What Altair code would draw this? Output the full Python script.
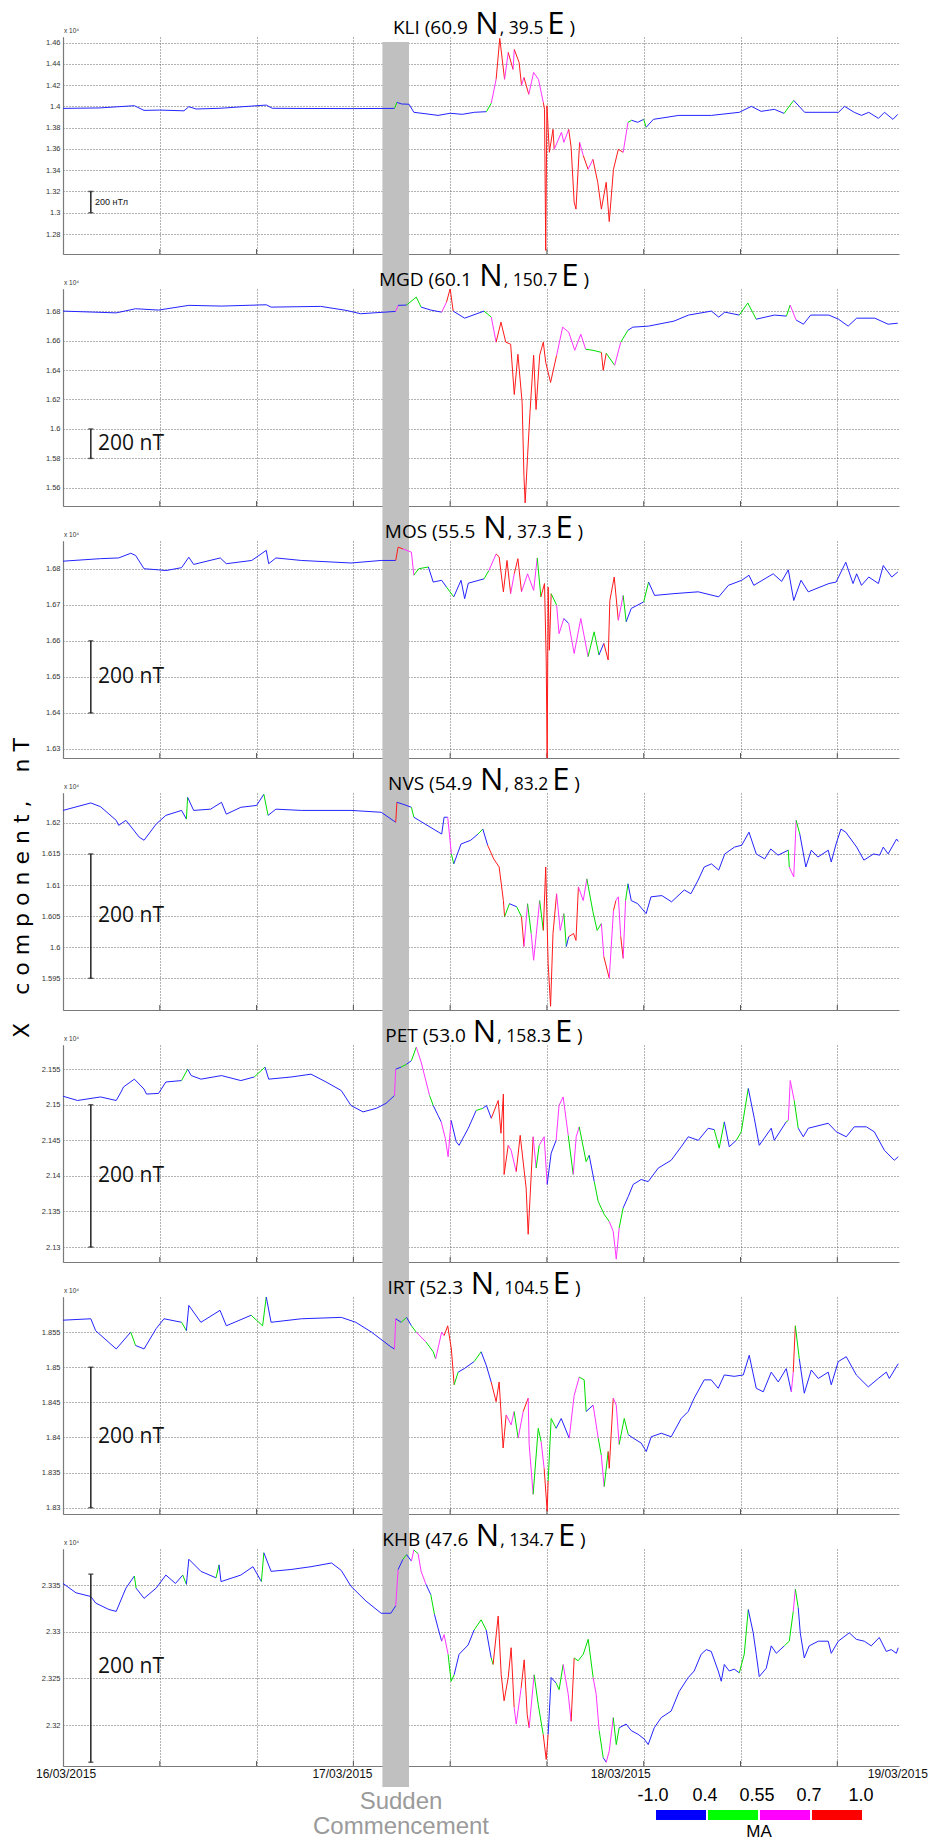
import altair as alt
import pandas as pd

# ---------------- data ----------------
# time = hours since 16/03/2015 00:00
T_END = 69.1
GRID_HOURS = [0, 8, 16, 24, 32, 40, 48, 56, 64]
SC_HOURS = [26.4, 28.6]  # sudden commencement band

MA_CODES = ["b", "g", "m", "r"]
MA_LINE_COLORS = ["#2424ff", "#00dd00", "#ff33ff", "#ff1a1a"]
MA_BAR_COLORS = ["#0000ff", "#00ff00", "#ff00ff", "#ff0000"]
MA_TICKS = ["-1.0", "0.4", "0.55", "0.7", "1.0"]

DATE_TEXT = ["16/03/2015", "17/03/2015", "18/03/2015", "19/03/2015"]
DATE_HOURS = [0.25, 23.1, 46.1, 69.0]

STATIONS = ["KLI", "MGD", "MOS", "NVS", "PET", "IRT", "KHB"]
LAT = ["60.9", "60.1", "55.5", "54.9", "53.0", "52.3", "47.6"]
LON = ["39.5", "150.7", "37.3", "83.2", "158.3", "104.5", "134.7"]

Y_DOMAINS = [[12612, 14652], [15477, 16950], [16275, 16877], [15899, 16248],
             [21279, 21584], [18291, 18600], [23156, 23389]]
Y_TICKS = [
    [12800, 13000, 13200, 13400, 13600, 13800, 14000, 14200, 14400, 14600],
    [15600, 15800, 16000, 16200, 16400, 16600, 16800],
    [16300, 16400, 16500, 16600, 16700, 16800],
    [15950, 16000, 16050, 16100, 16150, 16200],
    [21300, 21350, 21400, 21450, 21500, 21550],
    [18300, 18350, 18400, 18450, 18500, 18550],
    [23200, 23250, 23300, 23350],
]
BAR_LO = [13000, 15800, 16400, 15950, 21300, 18300, 23160]
BAR_HI = [13200, 16000, 16600, 16150, 21500, 18500, 23362]
BAR_LABEL_V = [13100, 15895, 16500, 16050, 21400, 18400, 23262]
BAR_TEXT = ["200 нТл", "200 nT", "200 nT", "200 nT", "200 nT", "200 nT", "200 nT"]
BAR_HOUR = 2.3
BAR_TEXT_HOUR = [2.65, 2.9, 2.9, 2.9, 2.9, 2.9, 2.9]

KLI = [(0, 13981, "b"), (3.0, 13985, "b"), (5.9, 14006, "b"), (6.7, 13962, "b"), (8.0, 13965, "b"),
       (10.0, 13958, "b"), (10.4, 13997, "b"), (11.0, 13975, "b"), (13.0, 13982, "b"), (16.8, 14012, "b"),
       (17.3, 13982, "b"), (20.0, 13980, "b"), (24.0, 13979, "b"), (27.4, 13981, "g"), (27.6, 14037, "b"),
       (28.0, 14022, "b"), (28.6, 14020, "b"), (29.0, 13944, "b"), (30.0, 13930, "b"), (31.0, 13915, "b"),
       (32.0, 13935, "b"), (33.0, 13925, "b"), (34.0, 13944, "b"), (35.0, 13950, "g"), (35.4, 14030, "m"),
       (35.8, 14254, "r"), (36.1, 14639, "r"), (36.5, 14254, "m"), (36.8, 14507, "r"), (37.2, 14347, "m"),
       (37.3, 14535, "r"), (37.7, 14413, "r"), (37.9, 14197, "m"), (38.1, 14272, "r"), (38.5, 14113, "m"),
       (38.9, 14319, "m"), (39.3, 14254, "m"), (39.7, 14037, "r"), (39.8, 13972, "r"), (39.9, 12646, "r"),
       (40.0, 14006, "r"), (40.2, 13568, "r"), (40.5, 13784, "r"), (40.6, 13596, "m"), (41.2, 13756, "m"),
       (41.4, 13662, "m"), (41.8, 13784, "r"), (42.0, 13615, "r"), (42.25, 13098, "r"), (42.4, 13034, "r"),
       (42.7, 13662, "m"), (43.0, 13539, "r"), (43.4, 13408, "m"), (43.8, 13502, "r"), (44.2, 13286, "r"),
       (44.5, 13034, "r"), (44.9, 13286, "r"), (45.15, 12917, "r"), (45.5, 13408, "r"), (45.9, 13596, "r"),
       (46.3, 13568, "m"), (46.7, 13850, "g"), (47.0, 13869, "b"), (47.5, 13850, "b"), (48.0, 13878, "g"),
       (48.2, 13803, "b"), (48.8, 13878, "b"), (50.9, 13915, "b"), (53.6, 13915, "b"), (55.9, 13944, "b"),
       (56.9, 14000, "b"), (57.7, 13953, "b"), (58.8, 13972, "b"), (59.6, 13934, "g"), (60.4, 14056, "b"),
       (61.3, 13944, "b"), (64.1, 13944, "b"), (64.6, 14000, "b"), (65.4, 13944, "b"), (66.0, 13915, "b"),
       (66.6, 13944, "b"), (67.4, 13887, "b"), (67.9, 13944, "b"), (68.6, 13878, "b"), (69.0, 13925, "b")]

MGD = [(0, 16800, "b"), (4.4, 16788, "b"), (6.0, 16816, "b"), (7.9, 16807, "b"), (10.4, 16839, "b"),
       (13.1, 16834, "b"), (16.8, 16843, "b"), (17.2, 16827, "b"), (21.3, 16832, "b"), (23.4, 16805, "b"),
       (24.6, 16782, "b"), (27.5, 16798, "m"), (27.7, 16839, "b"), (28.4, 16841, "g"), (29.2, 16895, "g"),
       (29.6, 16827, "b"), (30.4, 16807, "b"), (31.3, 16793, "m"), (31.7, 16861, "r"), (32.0, 16952, "r"),
       (32.25, 16800, "b"), (33.2, 16752, "b"), (34.8, 16800, "g"), (35.4, 16759, "m"), (35.8, 16589, "r"),
       (36.2, 16725, "r"), (36.6, 16589, "r"), (37.0, 16575, "r"), (37.3, 16234, "r"), (37.6, 16507, "r"),
       (37.95, 16180, "r"), (38.1, 15682, "r"), (38.2, 15498, "r"), (38.4, 15818, "r"), (38.6, 16112, "r"),
       (38.9, 16500, "r"), (39.1, 16132, "r"), (39.4, 16500, "r"), (39.7, 16589, "r"), (39.9, 16452, "r"),
       (40.3, 16316, "r"), (40.8, 16500, "m"), (41.3, 16691, "m"), (41.8, 16657, "m"), (42.3, 16534, "m"),
       (42.8, 16643, "m"), (43.2, 16541, "g"), (43.8, 16534, "g"), (44.5, 16520, "r"), (44.65, 16398, "r"),
       (44.9, 16514, "g"), (45.6, 16432, "m"), (46.1, 16589, "g"), (46.7, 16670, "b"), (47.1, 16691, "b"),
       (48.4, 16698, "b"), (50.5, 16732, "b"), (51.7, 16773, "b"), (53.6, 16800, "b"), (54.2, 16759, "b"),
       (54.7, 16793, "b"), (55.9, 16773, "g"), (56.6, 16855, "g"), (57.3, 16745, "b"), (58.8, 16773, "b"),
       (59.8, 16766, "g"), (60.1, 16841, "m"), (60.6, 16739, "b"), (61.2, 16711, "b"), (61.8, 16773, "b"),
       (63.3, 16773, "b"), (64.1, 16745, "b"), (64.9, 16698, "b"), (65.6, 16752, "b"), (67.1, 16752, "b"),
       (68.2, 16711, "b"), (69.0, 16718, "b")]

MOS = [(0, 16821, "b"), (3.1, 16828, "b"), (4.6, 16830, "b"), (5.6, 16843, "b"), (6.0, 16837, "b"),
       (6.7, 16800, "b"), (7.9, 16797, "b"), (8.5, 16795, "b"), (9.8, 16803, "b"), (10.4, 16832, "b"),
       (10.8, 16812, "b"), (13.0, 16830, "b"), (13.5, 16814, "b"), (15.6, 16823, "b"), (16.8, 16851, "b"),
       (17.0, 16814, "b"), (17.6, 16830, "b"), (19.7, 16823, "b"), (23.8, 16816, "b"), (26.3, 16823, "b"),
       (27.5, 16823, "r"), (27.7, 16860, "r"), (28.1, 16855, "m"), (28.8, 16846, "m"), (29.0, 16782, "g"),
       (29.4, 16800, "g"), (30.2, 16805, "b"), (30.6, 16763, "b"), (31.3, 16768, "b"), (31.7, 16749, "g"),
       (32.3, 16722, "b"), (32.9, 16768, "b"), (33.2, 16717, "b"), (33.5, 16760, "b"), (34.8, 16772, "g"),
       (35.2, 16795, "m"), (35.8, 16841, "r"), (36.05, 16833, "r"), (36.4, 16736, "r"), (36.7, 16823, "r"),
       (37.0, 16731, "m"), (37.3, 16786, "r"), (37.6, 16828, "r"), (37.9, 16736, "m"), (38.4, 16786, "m"),
       (38.9, 16740, "m"), (39.2, 16830, "g"), (39.5, 16722, "r"), (39.8, 16759, "r"), (39.94, 16547, "r"),
       (40.02, 16270, "r"), (40.1, 16749, "r"), (40.2, 16574, "r"), (40.35, 16731, "g"), (40.8, 16699, "m"),
       (41.0, 16620, "m"), (41.4, 16662, "b"), (41.8, 16648, "m"), (42.25, 16565, "m"), (42.8, 16662, "m"),
       (43.4, 16556, "g"), (43.9, 16625, "g"), (44.3, 16561, "b"), (44.7, 16593, "r"), (45.06, 16547, "r"),
       (45.2, 16712, "r"), (45.56, 16777, "r"), (45.9, 16657, "m"), (46.3, 16726, "g"), (46.55, 16653, "b"),
       (46.97, 16690, "b"), (48.0, 16708, "g"), (48.4, 16763, "b"), (48.9, 16726, "b"), (50.5, 16731, "b"),
       (52.5, 16736, "b"), (54.2, 16722, "b"), (55.0, 16754, "b"), (56.1, 16768, "b"), (56.7, 16782, "b"),
       (57.1, 16754, "b"), (58.7, 16786, "b"), (59.4, 16765, "b"), (59.95, 16797, "b"), (60.4, 16712, "b"),
       (61.0, 16768, "b"), (61.6, 16736, "b"), (63.3, 16759, "b"), (63.9, 16763, "b"), (64.7, 16818, "b"),
       (65.3, 16759, "b"), (65.6, 16786, "b"), (66.0, 16754, "b"), (66.6, 16777, "b"), (67.4, 16759, "b"),
       (67.8, 16809, "b"), (68.5, 16777, "b"), (69.0, 16791, "b")]

NVS = [(0, 16220, "b"), (2.3, 16232, "b"), (3.1, 16226, "b"), (4.4, 16204, "b"), (4.6, 16196, "b"),
       (5.2, 16204, "b"), (6.3, 16177, "b"), (6.7, 16172, "b"), (7.7, 16198, "b"), (8.5, 16212, "b"),
       (9.8, 16220, "b"), (10.2, 16206, "g"), (10.3, 16241, "b"), (10.8, 16220, "b"), (12.2, 16222, "b"),
       (13.1, 16233, "b"), (13.5, 16214, "b"), (14.7, 16225, "b"), (16.0, 16228, "b"), (16.6, 16246, "g"),
       (16.95, 16212, "b"), (17.6, 16222, "b"), (19.7, 16220, "b"), (23.8, 16220, "b"), (26.3, 16217, "b"),
       (27.5, 16201, "r"), (27.6, 16233, "b"), (28.1, 16230, "b"), (28.8, 16225, "g"), (29.0, 16209, "b"),
       (31.3, 16182, "b"), (31.5, 16209, "b"), (31.8, 16209, "m"), (32.1, 16150, "g"), (32.3, 16134, "b"),
       (32.9, 16166, "b"), (33.7, 16172, "b"), (34.3, 16182, "g"), (34.7, 16190, "b"), (35.1, 16164, "r"),
       (35.6, 16142, "r"), (36.05, 16129, "r"), (36.4, 16075, "r"), (36.5, 16049, "g"), (36.9, 16070, "b"),
       (37.5, 16065, "g"), (37.9, 16049, "r"), (38.1, 16001, "m"), (38.4, 16070, "g"), (38.7, 16022, "m"),
       (38.9, 15979, "m"), (39.4, 16075, "g"), (39.7, 16027, "r"), (39.9, 16129, "r"), (40.1, 15974, "r"),
       (40.3, 15905, "r"), (40.5, 16022, "r"), (40.8, 16086, "m"), (41.1, 16027, "m"), (41.4, 16054, "g"),
       (41.6, 16001, "b"), (41.8, 16017, "r"), (42.2, 16022, "r"), (42.4, 16011, "r"), (42.6, 16097, "m"),
       (43.0, 16075, "m"), (43.3, 16110, "g"), (43.8, 16057, "g"), (44.15, 16027, "g"), (44.5, 16038, "m"),
       (44.7, 15985, "r"), (45.15, 15950, "m"), (45.5, 16059, "r"), (45.7, 16075, "m"), (45.9, 16081, "m"),
       (46.1, 16017, "r"), (46.3, 15982, "m"), (46.5, 16075, "g"), (46.7, 16102, "b"), (46.97, 16075, "b"),
       (47.5, 16070, "b"), (48.2, 16054, "b"), (48.6, 16081, "b"), (49.5, 16083, "b"), (50.3, 16073, "b"),
       (51.35, 16092, "b"), (51.9, 16086, "b"), (52.5, 16108, "b"), (53.0, 16129, "b"), (53.6, 16134, "b"),
       (54.2, 16124, "b"), (54.7, 16150, "b"), (55.5, 16161, "b"), (56.1, 16164, "b"), (56.7, 16185, "b"),
       (57.3, 16150, "b"), (58.0, 16142, "b"), (58.5, 16158, "b"), (59.1, 16148, "b"), (59.95, 16156, "g"),
       (60.03, 16129, "m"), (60.4, 16113, "m"), (60.6, 16204, "g"), (60.9, 16182, "b"), (61.4, 16129, "b"),
       (61.85, 16156, "b"), (62.4, 16145, "b"), (63.25, 16156, "b"), (63.5, 16137, "b"), (63.9, 16166, "b"),
       (64.3, 16190, "b"), (64.7, 16185, "b"), (65.6, 16161, "b"), (66.2, 16140, "b"), (67.0, 16150, "b"),
       (67.5, 16148, "b"), (67.8, 16161, "b"), (68.2, 16150, "b"), (68.9, 16174, "b"), (69.04, 16170, "b")]

PET = [(0, 21512, "b"), (1.2, 21506, "b"), (3.1, 21511, "b"), (4.4, 21506, "b"), (4.8, 21518, "b"),
       (5.0, 21525, "b"), (5.9, 21536, "b"), (6.7, 21522, "b"), (6.9, 21515, "b"), (7.9, 21516, "b"),
       (8.5, 21532, "b"), (9.8, 21534, "g"), (10.3, 21550, "b"), (10.6, 21541, "b"), (11.4, 21536, "b"),
       (13.1, 21541, "b"), (14.7, 21534, "b"), (15.8, 21539, "g"), (16.7, 21553, "b"), (17.0, 21536, "b"),
       (18.85, 21539, "b"), (20.5, 21543, "b"), (21.75, 21532, "b"), (23.0, 21520, "b"), (23.8, 21499, "b"),
       (24.8, 21490, "b"), (25.9, 21495, "b"), (26.7, 21502, "b"), (27.4, 21513, "m"), (27.5, 21550, "b"),
       (27.95, 21553, "g"), (28.4, 21557, "b"), (28.8, 21562, "g"), (29.2, 21581, "m"), (29.6, 21560, "m"),
       (30.3, 21513, "g"), (30.6, 21499, "b"), (31.0, 21485, "b"), (31.26, 21476, "m"), (31.6, 21453, "m"),
       (31.83, 21427, "m"), (32.08, 21478, "b"), (32.5, 21448, "b"), (32.74, 21443, "b"), (33.5, 21467, "b"),
       (34.15, 21492, "g"), (34.7, 21495, "b"), (35.0, 21499, "b"), (35.4, 21481, "r"), (35.97, 21506, "r"),
       (36.2, 21460, "r"), (36.4, 21515, "r"), (36.46, 21402, "r"), (36.8, 21443, "m"), (37.04, 21436, "m"),
       (37.46, 21406, "r"), (37.79, 21457, "r"), (38.28, 21383, "r"), (38.45, 21318, "r"), (38.86, 21455, "m"),
       (39.11, 21411, "g"), (39.36, 21443, "m"), (39.77, 21455, "m"), (40.02, 21388, "b"), (40.35, 21432, "b"),
       (40.76, 21450, "m"), (41.0, 21499, "m"), (41.34, 21511, "m"), (41.76, 21457, "g"), (42.17, 21402, "m"),
       (42.42, 21455, "m"), (42.67, 21469, "g"), (43.24, 21420, "g"), (43.49, 21429, "b"), (43.91, 21392, "g"),
       (44.24, 21364, "g"), (44.73, 21346, "g"), (45.15, 21336, "m"), (45.48, 21322, "m"), (45.73, 21283, "m"),
       (45.97, 21327, "g"), (46.3, 21355, "b"), (46.72, 21371, "b"), (47.13, 21388, "b"), (47.79, 21395, "b"),
       (48.37, 21392, "b"), (49.2, 21411, "b"), (50.27, 21422, "b"), (51.1, 21441, "b"), (51.68, 21455, "b"),
       (52.51, 21450, "b"), (53.33, 21467, "b"), (53.83, 21465, "g"), (54.24, 21439, "g"), (54.66, 21476, "b"),
       (55.07, 21441, "b"), (55.65, 21450, "g"), (56.06, 21462, "g"), (56.64, 21523, "b"), (57.14, 21481, "b"),
       (57.55, 21443, "b"), (58.54, 21467, "b"), (58.79, 21450, "b"), (59.78, 21476, "g"), (59.95, 21478, "m"),
       (60.11, 21534, "m"), (60.44, 21506, "g"), (60.77, 21467, "b"), (61.19, 21455, "b"), (61.6, 21467, "b"),
       (63.25, 21474, "b"), (63.92, 21462, "b"), (64.74, 21455, "b"), (65.4, 21469, "b"), (66.4, 21469, "b"),
       (67.06, 21462, "b"), (67.89, 21436, "b"), (68.71, 21422, "b"), (69.04, 21427, "b")]

IRT = [(0, 18567, "b"), (2.3, 18569, "b"), (2.7, 18552, "b"), (4.4, 18526, "b"), (5.6, 18550, "g"),
       (6.0, 18531, "b"), (6.7, 18526, "b"), (7.7, 18555, "b"), (8.35, 18569, "b"), (9.8, 18564, "g"),
       (10.2, 18552, "b"), (10.4, 18588, "b"), (11.4, 18564, "b"), (12.98, 18581, "b"), (13.5, 18559, "b"),
       (15.55, 18574, "g"), (16.5, 18559, "g"), (16.8, 18600, "b"), (17.2, 18564, "b"), (19.7, 18569, "b"),
       (23.0, 18571, "b"), (24.2, 18564, "b"), (25.5, 18550, "b"), (27.1, 18529, "b"), (27.4, 18526, "m"),
       (27.5, 18569, "b"), (27.95, 18564, "g"), (28.4, 18571, "b"), (28.8, 18559, "g"), (29.2, 18550, "m"),
       (29.6, 18543, "m"), (30.0, 18536, "g"), (30.6, 18522, "g"), (30.8, 18512, "m"), (31.3, 18550, "m"),
       (31.5, 18545, "r"), (31.8, 18559, "r"), (32.1, 18526, "r"), (32.33, 18475, "g"), (32.66, 18493, "b"),
       (33.16, 18498, "b"), (33.98, 18508, "g"), (34.56, 18522, "b"), (34.98, 18503, "b"), (35.39, 18479, "r"),
       (35.8, 18451, "r"), (36.05, 18479, "r"), (36.38, 18385, "r"), (36.63, 18432, "m"), (37.04, 18418, "m"),
       (37.29, 18437, "g"), (37.62, 18399, "m"), (38.04, 18437, "r"), (38.45, 18456, "m"), (38.53, 18390, "m"),
       (38.86, 18319, "g"), (39.28, 18413, "g"), (39.52, 18394, "m"), (39.77, 18356, "r"), (40.02, 18295, "r"),
       (40.1, 18338, "g"), (40.35, 18427, "g"), (40.76, 18413, "b"), (41.18, 18427, "b"), (41.84, 18399, "m"),
       (42.25, 18460, "m"), (42.67, 18486, "g"), (43.08, 18482, "g"), (43.24, 18437, "b"), (43.82, 18446, "m"),
       (44.24, 18399, "g"), (44.49, 18375, "m"), (44.73, 18330, "g"), (45.06, 18380, "r"), (45.15, 18356, "r"),
       (45.48, 18456, "m"), (45.73, 18446, "m"), (45.97, 18390, "g"), (46.39, 18427, "g"), (46.72, 18404, "b"),
       (47.13, 18399, "b"), (47.79, 18392, "b"), (48.21, 18380, "b"), (48.62, 18401, "b"), (49.45, 18406, "b"),
       (50.27, 18401, "b"), (51.1, 18427, "b"), (51.68, 18437, "b"), (52.17, 18456, "b"), (53.0, 18482, "b"),
       (53.58, 18482, "b"), (54.16, 18470, "b"), (54.66, 18489, "b"), (55.48, 18487, "b"), (56.23, 18489, "b"),
       (56.72, 18517, "b"), (57.3, 18470, "b"), (57.88, 18465, "b"), (58.54, 18493, "b"), (59.12, 18479, "b"),
       (59.78, 18498, "b"), (60.2, 18465, "m"), (60.36, 18493, "r"), (60.53, 18559, "g"), (60.86, 18512, "b"),
       (61.27, 18463, "b"), (61.85, 18496, "b"), (62.43, 18484, "b"), (63.25, 18493, "b"), (63.5, 18475, "b"),
       (64.08, 18508, "b"), (64.74, 18515, "b"), (65.57, 18489, "b"), (66.56, 18472, "b"), (67.39, 18484, "b"),
       (68.05, 18493, "b"), (68.3, 18484, "b"), (69.04, 18505, "b")]

KHB = [(0, 23352, "b"), (1.07, 23342, "b"), (2.3, 23338, "b"), (2.7, 23331, "b"), (3.8, 23324, "b"),
       (4.4, 23322, "b"), (5.2, 23347, "b"), (5.9, 23360, "g"), (6.04, 23347, "b"), (6.7, 23336, "b"),
       (7.7, 23347, "b"), (8.5, 23361, "b"), (9.3, 23352, "b"), (9.9, 23361, "g"), (10.2, 23351, "b"),
       (10.4, 23378, "b"), (11.4, 23365, "b"), (12.65, 23358, "g"), (12.9, 23372, "b"), (13.06, 23354, "b"),
       (14.7, 23361, "b"), (15.7, 23370, "b"), (16.4, 23354, "g"), (16.6, 23385, "b"), (17.2, 23365, "b"),
       (18.85, 23367, "b"), (20.5, 23370, "b"), (22.2, 23374, "b"), (23.0, 23366, "b"), (23.8, 23349, "b"),
       (25.05, 23333, "b"), (26.3, 23320, "b"), (27.1, 23320, "b"), (27.5, 23328, "m"), (27.7, 23367, "b"),
       (28.1, 23378, "g"), (28.4, 23383, "b"), (28.8, 23376, "m"), (29.0, 23388, "g"), (29.35, 23384, "m"),
       (29.6, 23365, "m"), (30.0, 23351, "b"), (30.4, 23340, "g"), (30.7, 23319, "b"), (31.0, 23304, "b"),
       (31.3, 23290, "m"), (31.5, 23297, "m"), (31.83, 23276, "g"), (32.08, 23247, "g"), (32.33, 23254, "b"),
       (32.74, 23276, "b"), (33.49, 23286, "b"), (33.98, 23302, "g"), (34.56, 23313, "g"), (34.98, 23302, "b"),
       (35.39, 23272, "g"), (35.55, 23265, "r"), (35.97, 23317, "r"), (36.22, 23254, "r"), (36.46, 23226, "r"),
       (36.8, 23251, "r"), (37.04, 23283, "r"), (37.29, 23219, "m"), (37.46, 23201, "m"), (37.87, 23240, "r"),
       (38.12, 23270, "r"), (38.37, 23211, "r"), (38.53, 23197, "m"), (38.94, 23254, "g"), (39.28, 23222, "g"),
       (39.69, 23190, "r"), (39.94, 23163, "r"), (40.1, 23190, "b"), (40.35, 23251, "b"), (40.76, 23245, "g"),
       (41.01, 23238, "g"), (41.34, 23265, "m"), (41.76, 23233, "m"), (42.0, 23204, "r"), (42.25, 23272, "g"),
       (42.58, 23269, "g"), (43.0, 23276, "g"), (43.41, 23292, "g"), (43.82, 23251, "m"), (44.07, 23233, "m"),
       (44.32, 23194, "g"), (44.65, 23165, "b"), (44.9, 23160, "m"), (45.15, 23172, "m"), (45.48, 23208, "g"),
       (45.73, 23179, "g"), (45.97, 23197, "b"), (46.55, 23201, "b"), (46.97, 23194, "b"), (47.54, 23190, "b"),
       (48.04, 23185, "b"), (48.37, 23179, "b"), (48.87, 23197, "b"), (49.45, 23208, "b"), (50.27, 23215, "b"),
       (50.93, 23236, "b"), (51.68, 23251, "b"), (52.17, 23258, "b"), (52.75, 23276, "b"), (53.17, 23281, "b"),
       (53.58, 23279, "b"), (54.16, 23258, "b"), (54.41, 23247, "b"), (54.66, 23265, "b"), (55.07, 23258, "b"),
       (55.48, 23260, "b"), (55.9, 23256, "g"), (56.31, 23276, "g"), (56.64, 23324, "b"), (57.05, 23299, "b"),
       (57.3, 23276, "b"), (57.55, 23252, "b"), (58.13, 23261, "b"), (58.54, 23285, "b"), (58.96, 23277, "b"),
       (59.62, 23285, "g"), (60.03, 23290, "g"), (60.36, 23322, "m"), (60.53, 23346, "g"), (60.77, 23326, "b"),
       (60.94, 23299, "b"), (61.27, 23272, "b"), (61.68, 23285, "b"), (62.43, 23290, "b"), (63.25, 23290, "b"),
       (63.5, 23277, "b"), (64.08, 23290, "b"), (64.99, 23299, "b"), (65.57, 23292, "b"), (66.23, 23290, "b"),
       (66.81, 23285, "b"), (67.47, 23294, "b"), (68.05, 23279, "b"), (68.46, 23281, "b"), (68.88, 23277, "b"),
       (69.04, 23283, "b")]

SERIES = [KLI, MGD, MOS, NVS, PET, IRT, KHB]

# ---------------- layout / style ----------------
W, H, GAP = 836, 217, 35
SANS = "Liberation Sans"
TITLE_FONT = "Open Sans"
NB = "\u00a0"
GRID_STYLE = dict(grid=True, gridDash=[1, 2], gridColor="#555", gridWidth=1, gridOpacity=0.9,
                  domainColor="#7a7a7a", domainWidth=1.2, ticks=False, title=None)

XS = alt.Scale(domain=[0, T_END], nice=False, zero=False)
X_AXIS = alt.Axis(values=GRID_HOURS, labels=False, **GRID_STYLE)
COLOR = alt.Color("ma:N", scale=alt.Scale(domain=MA_CODES, range=MA_LINE_COLORS), legend=None)

EM = {"0": .572, "1": .572, "2": .572, "3": .572, "4": .572, "5": .572, "6": .572, "7": .572,
      "8": .572, "9": .572, " ": .26, ".": .266, ",": .25, "(": .296, ")": .296, "K": .59, "L": .5,
      "I": .28, "M": .9, "G": .69, "D": .725, "O": .78, "S": .54, "V": .58, "N": .76, "P": .6,
      "E": .52, "T": .52, "R": .62, "H": .745, "B": .62, NB: .26}


def text_w(s, size):
    return sum(EM.get(c, .56) for c in s) * size


def seg_frame(points):
    rows = []
    for (t0, v0, c), (t1, v1, _) in zip(points[:-1], points[1:]):
        rows.append({"t": t0, "t2": t1, "v": v0, "v2": v1, "ma": c})
    return pd.DataFrame(rows)


def fixed_text(s, x, y, **kw):
    return alt.Chart(pd.DataFrame({"s": [s]})).mark_text(**kw).encode(
        text="s:N", x=alt.value(x), y=alt.value(y))


def panel(i):
    first, last = i == 0, i == len(STATIONS) - 1
    ys = alt.Scale(domain=Y_DOMAINS[i], nice=False, zero=False)
    y_axis = alt.Axis(values=Y_TICKS[i], labelExpr="format(datum.value/10000, '~g')",
                      labelFontSize=7.5, labelColor="#333", labelPadding=3,
                      labelFont=SANS, **GRID_STYLE)
    X = lambda f: alt.X(f, scale=XS, axis=X_AXIS)
    Y = lambda f: alt.Y(f, scale=ys, axis=y_axis)

    band = alt.Chart(pd.DataFrame({"t": [SC_HOURS[0]], "t2": [SC_HOURS[1]]})).mark_rect(
        color="#c0c0c0").encode(x=X("t:Q"), x2="t2:Q",
                                y=alt.value(5 if first else -GAP),
                                y2=alt.value(H + 21 if last else H))
    bticks = alt.Chart(pd.DataFrame({"t": GRID_HOURS[1:]})).mark_rule(color="#555").encode(
        x=X("t:Q"), y=alt.value(H - 5), y2=alt.value(H))
    lines = alt.Chart(seg_frame(SERIES[i])).mark_rule(strokeWidth=1, clip=True).encode(
        x=X("t:Q"), x2="t2:Q", y=Y("v:Q"), y2="v2:Q", color=COLOR)
    bar = alt.Chart(pd.DataFrame({"t": [BAR_HOUR], "lo": [BAR_LO[i]], "hi": [BAR_HI[i]]})).mark_rule(
        color="#222", strokeWidth=1.5).encode(x=X("t:Q"), y=Y("lo:Q"), y2="hi:Q")
    caps = alt.Chart(pd.DataFrame({"t": [BAR_HOUR, BAR_HOUR], "v": [BAR_LO[i], BAR_HI[i]]})).mark_tick(
        orient="horizontal", size=5, thickness=1.5, color="#222").encode(x=X("t:Q"), y=Y("v:Q"))
    bar_lbl = alt.Chart(pd.DataFrame({"t": [BAR_TEXT_HOUR[i]], "v": [BAR_LABEL_V[i]],
                                      "s": [BAR_TEXT[i]]})).mark_text(
        align="left", baseline="middle", font=SANS if first else TITLE_FONT,
        fontSize=9 if first else 21, color="#111").encode(x=X("t:Q"), y=Y("v:Q"), text="s:N")
    mult = fixed_text("x 10⁴", 1, -6, align="left", baseline="middle", fontSize=6.5,
                      font=SANS, color="#333")

    # composite title: station (lat N, lon E) with explicit gaps between parts
    parts = [(f"{STATIONS[i]} ({LAT[i]}", 19, 8), ("N", 31, 1), (f",{NB}{LON[i]}", 17.5, 4),
             ("E", 31, 6), (")", 19, 0)]
    total = sum(text_w(s, f) + g for s, f, g in parts)
    x0 = 421 - total / 2
    title_layers = []
    for s, f, g in parts:
        title_layers.append(fixed_text(s, x0, -3, align="left", baseline="alphabetic",
                                       font=TITLE_FONT, fontSize=f, color="#000"))
        x0 += text_w(s, f) + g

    layers = [band, bticks, lines, bar, caps, bar_lbl, mult] + title_layers

    if STATIONS[i] == "NVS":
        ylabel = ("X" + NB * 4 + NB.join("component") + NB + "," + NB * 4 + "n" + NB + "T")
        layers.append(fixed_text(ylabel, -41, 95, angle=270,
                                 align="center", baseline="middle", font="DejaVu Sans",
                                 fontSize=22, color="#000"))
    if last:
        dates = alt.Chart(pd.DataFrame({"t": DATE_HOURS, "s": DATE_TEXT})).mark_text(
            baseline="middle", align="center", font=SANS, fontSize=12, color="#111").encode(
            x=X("t:Q"), y=alt.value(H + 8), text="s:N")
        layers.append(dates)
        for k, c in enumerate(MA_BAR_COLORS):
            layers.append(alt.Chart(pd.DataFrame({"ma": [MA_CODES[k]]})).mark_rect(color=c).encode(
                x=alt.value(593 + 52 * k), x2=alt.value(593 + 52 * k + 50),
                y=alt.value(261), y2=alt.value(271)))
        for k, s in enumerate(MA_TICKS):
            layers.append(fixed_text(s, 590 + 52 * k, 247, align="center", baseline="middle",
                                     font=SANS, fontSize=18, color="#000"))
        layers.append(fixed_text("MA", 696, 283, align="center", baseline="middle",
                                 font=SANS, fontSize=17, color="#000"))
        layers.append(fixed_text("Sudden", 338, 260, align="center", baseline="alphabetic",
                                 font=SANS, fontSize=24, color="#9a9a9a"))
        layers.append(fixed_text("Commencement", 338, 285, align="center", baseline="alphabetic",
                                 font=SANS, fontSize=24, color="#9a9a9a"))

    return alt.layer(*layers).properties(width=W, height=H)


chart = alt.vconcat(*[panel(i) for i in range(len(STATIONS))], spacing=GAP, bounds="flush").properties(
    padding={"left": 10, "top": 8, "right": 5, "bottom": 0}, background="white"
).configure_view(stroke="transparent")

chart.save("out.html", embed_options={"renderer": "svg", "actions": False})
